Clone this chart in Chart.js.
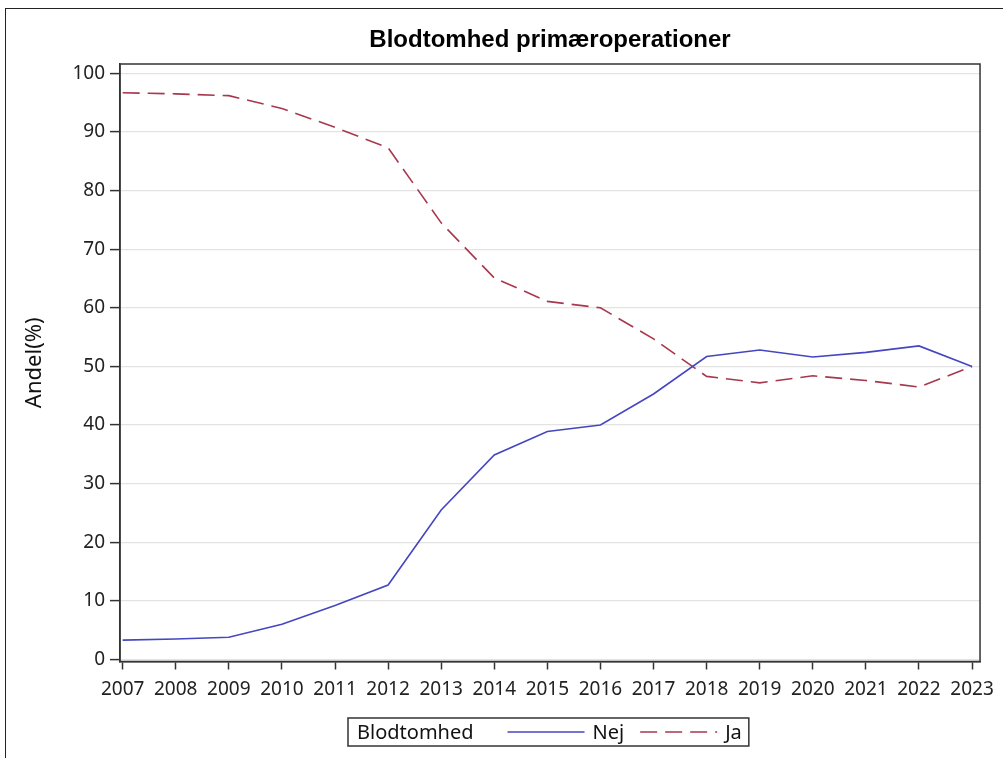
<!DOCTYPE html>
<html><head><meta charset="utf-8">
<script src="https://cdn.jsdelivr.net/npm/chart.js@4.4.0/dist/chart.umd.min.js"></script>
<style>
html,body{margin:0;padding:0;overflow:hidden;background:#fff;width:1003px;height:758px}
#frame{position:absolute;left:5px;top:8px;width:1200px;height:1000px;border:1.5px solid #222;box-sizing:border-box}
canvas{position:absolute;left:0;top:0}
</style></head><body>
<div id="frame"></div>
<canvas id="c" width="1003" height="758"></canvas>
<script>
const years = [2007,2008,2009,2010,2011,2012,2013,2014,2015,2016,2017,2018,2019,2020,2021,2022,2023];
const nejValues = [3.3,3.5,3.8,6.0,9.2,12.7,25.5,34.9,38.9,40.0,45.3,51.7,52.8,51.6,52.4,53.5,50.0];
const jaValues  = [96.7,96.5,96.2,94.0,90.8,87.3,74.5,65.1,61.1,60.0,54.7,48.3,47.2,48.4,47.6,46.5,50.0];
const yTicks = [0,10,20,30,40,50,60,70,80,90,100];
const seriesLabels = ['Nej','Ja'];
const chartTitle = 'Blodtomhed primæroperationer';
const yAxisTitle = 'Andel(%)';
const legendTitle = 'Blodtomhed';

const FONT = 'Noto Sans';
const AXIS = '#333';

const framePlugin = {
  id: 'frame',
  afterDraw(chart) {
    const {ctx, chartArea: a} = chart;
    ctx.save();
    ctx.strokeStyle = AXIS; ctx.lineWidth = 1.5;
    ctx.strokeRect(a.left, a.top, a.right - a.left, a.bottom - a.top);
    // title
    ctx.fillStyle = '#000';
    ctx.font = 'bold 24px "Liberation Sans", Arial, sans-serif';
    ctx.textAlign = 'center'; ctx.textBaseline = 'alphabetic';
    ctx.fillText(chartTitle, (a.left + a.right) / 2, 47);
    // legend
    ctx.font = '20px "' + FONT + '"';
    const pad = 9, lineLen = 77, gap1 = 34, gap2 = 8, gap3 = 16;
    const tW = ctx.measureText(legendTitle).width;
    const ds = chart.data.datasets;
    const lw = ds.map(d => ctx.measureText(d.label).width);
    let total = pad + tW + gap1;
    ds.forEach((d, i) => { total += lineLen + gap2 + lw[i] + (i < ds.length - 1 ? gap3 : 0); });
    total += 7;
    const cx = (a.left + a.right) / 2;
    const bx = 348, by = 718, bh = 28;
    ctx.strokeStyle = AXIS; ctx.lineWidth = 1.5;
    ctx.strokeRect(bx, by, total, bh);
    ctx.textAlign = 'left';
    ctx.fillStyle = '#111';
    const base = by + 21;
    let x = bx + pad;
    ctx.fillText(legendTitle, x, base);
    x += tW + gap1;
    const ly = by + bh / 2;
    ds.forEach((d, i) => {
      ctx.save();
      ctx.strokeStyle = d.borderColor; ctx.lineWidth = d.borderWidth;
      ctx.setLineDash(d.borderDash || []);
      ctx.beginPath(); ctx.moveTo(x, ly); ctx.lineTo(x + lineLen, ly); ctx.stroke();
      ctx.restore();
      x += lineLen + gap2;
      ctx.fillText(d.label, x, base);
      x += lw[i] + gap3;
    });
    ctx.restore();
  }
};

new Chart(document.getElementById('c'), {
  type: 'line',
  data: {
    datasets: [
      { label: seriesLabels[0], data: years.map((y, i) => ({x: y, y: nejValues[i]})),
        borderColor: '#4646c0', borderWidth: 1.6, pointRadius: 0, tension: 0, fill: false },
      { label: seriesLabels[1], data: years.map((y, i) => ({x: y, y: jaValues[i]})),
        borderColor: '#a8384e', borderWidth: 1.6, borderDash: [17, 8], pointRadius: 0, tension: 0, fill: false }
    ]
  },
  options: {
    responsive: false,
    animation: false,
    layout: { padding: { top: 64, right: 21, left: 0, bottom: 56.5 } },
    plugins: { legend: { display: false }, title: { display: false }, tooltip: { enabled: false } },
    scales: {
      x: {
        type: 'linear', min: 2006.95, max: 2023.15,
        afterBuildTicks: s => { s.ticks = years.map(v => ({value: v})); },
        afterFit: s => { s.height = 40; },
        ticks: { autoSkip: false, maxRotation: 0, minRotation: 0, padding: 9, color: '#222',
                 font: { family: FONT, size: 19 }, callback: v => String(v) },
        grid: { drawOnChartArea: false, drawTicks: true, tickLength: 8, tickColor: AXIS, tickWidth: 1.5 },
        border: { color: AXIS, width: 1.5 }
      },
      y: {
        min: -0.34, max: 101.6,
        afterBuildTicks: s => { s.ticks = yTicks.map(v => ({value: v})); },
        afterFit: s => { s.width = 120; },
        ticks: { padding: 5, color: '#222', font: { family: FONT, size: 19 }, callback: v => String(v) },
        grid: { color: '#e3e3e3', lineWidth: 1.2, drawTicks: true, tickLength: 10, tickColor: AXIS, tickWidth: 1.5 },
        border: { color: AXIS, width: 1.5 },
        title: { display: true, text: yAxisTitle, color: '#111', font: { family: FONT, size: 22 }, padding: { top: 22 } }
      }
    }
  },
  plugins: [framePlugin]
});
</script>
</body></html>
